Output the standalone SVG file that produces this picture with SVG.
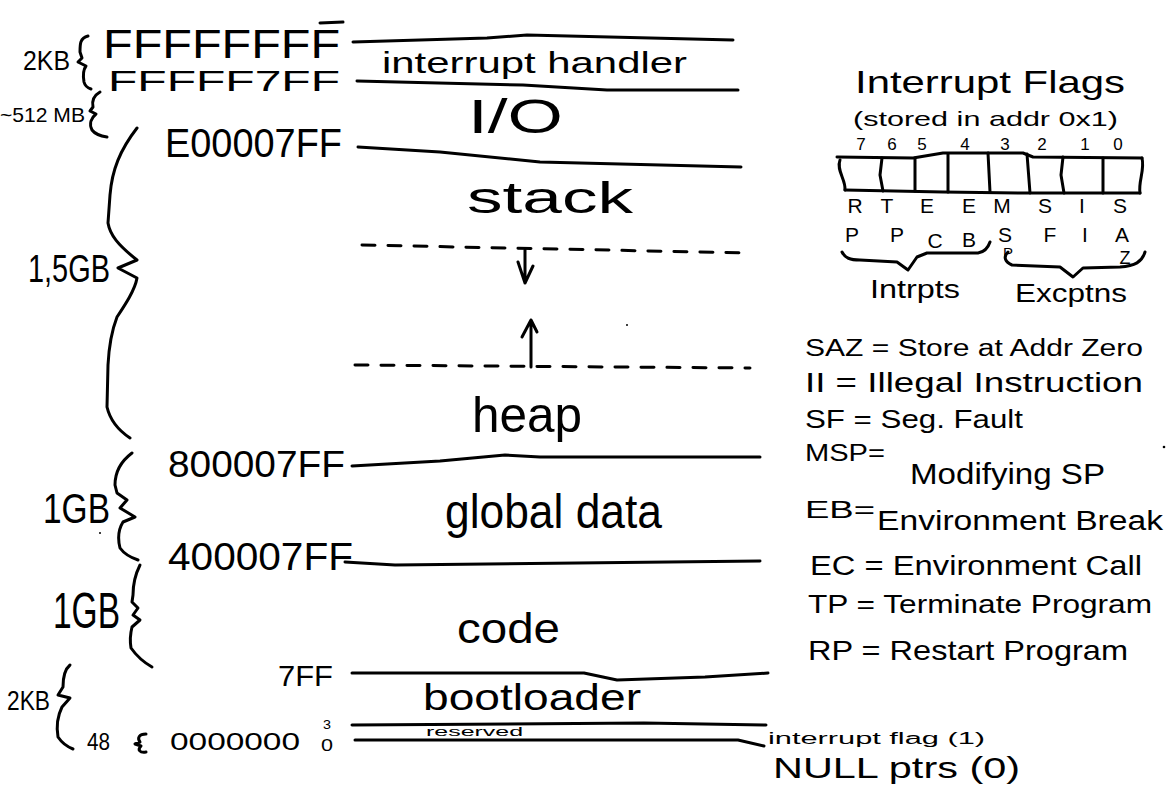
<svg xmlns="http://www.w3.org/2000/svg" width="1167" height="786" viewBox="0 0 1167 786">
<style>
.ink{fill:none;stroke:#000;stroke-width:3;stroke-linecap:round;stroke-linejoin:round}
.dash{stroke-dasharray:13 13}
.t{font-family:"Liberation Sans","DejaVu Sans",sans-serif;fill:#000}
.m{text-anchor:middle}
</style>
<rect width="1167" height="786" fill="#fff"/>

<g id="boundaries">
<path class="ink" d="M353,42 L487,38 L527,35 L733,40"/>
<path class="ink" d="M357,81 L523,85 L607,90 L738,90"/>
<path class="ink" d="M358,147 L440,152 L540,162 L741,167"/>
<path class="ink dash" d="M362,245 L750,253"/>
<path class="ink dash" d="M355,365 L750,368"/>
<path class="ink" d="M352,466 L440,461 L505,455 L540,457 L760,457"/>
<path class="ink" d="M345,562 L395,565 L760,561"/>
<path class="ink" d="M352,673 L584,673 L617,680 L705,677 L768,673"/>
<path class="ink" d="M352,725 L644,723 L766,725"/>
<path class="ink" d="M355,740 L738,740 L764,746"/>
<path class="ink" d="M320,23 L343,22"/>
</g>

<g id="connectors">
<path class="ink" d="M525,250 L525,283 M518,262 L525,283 L533,266"/>
<path class="ink" d="M531,367 L531,320 M522,337 L531,320 L537,332"/>
</g>

<g id="region-interrupt-handler"><text class="t" x="382" y="73" font-size="30" textLength="305" lengthAdjust="spacingAndGlyphs">interrupt handler</text></g>
<g id="region-io"><text class="t" x="468" y="133" font-size="49" textLength="95" lengthAdjust="spacingAndGlyphs">I/O</text></g>
<g id="region-stack"><text class="t" x="467" y="213" font-size="45" textLength="166" lengthAdjust="spacingAndGlyphs">stack</text></g>
<g id="region-heap"><text class="t" x="472" y="432" font-size="50" textLength="110" lengthAdjust="spacingAndGlyphs">heap</text></g>
<g id="region-global-data"><text class="t" x="445" y="528" font-size="48" textLength="217" lengthAdjust="spacingAndGlyphs">global data</text></g>
<g id="region-code"><text class="t" x="457" y="643" font-size="42" textLength="103" lengthAdjust="spacingAndGlyphs">code</text></g>
<g id="region-bootloader"><text class="t" x="423" y="710" font-size="36" textLength="218" lengthAdjust="spacingAndGlyphs">bootloader</text></g>
<g id="region-reserved"><text class="t" x="426" y="736" font-size="13" textLength="97" lengthAdjust="spacingAndGlyphs">reserved</text></g>
<g id="region-interrupt-flag"><text class="t" x="768" y="744" font-size="16" textLength="217" lengthAdjust="spacingAndGlyphs">interrupt flag (1)</text></g>
<g id="region-null"><text class="t" x="773" y="778" font-size="30" textLength="247" lengthAdjust="spacingAndGlyphs">NULL ptrs (0)</text></g>

<g id="addresses">
<text class="t" x="103" y="58" font-size="40" textLength="237" lengthAdjust="spacingAndGlyphs">FFFFFFFF</text>
<text class="t" x="108" y="91" font-size="29" textLength="232" lengthAdjust="spacingAndGlyphs">FFFFF7FF</text>
<text class="t" x="165" y="157" font-size="40" textLength="177" lengthAdjust="spacingAndGlyphs">E00007FF</text>
<text class="t" x="168" y="477" font-size="37" textLength="177" lengthAdjust="spacingAndGlyphs">800007FF</text>
<text class="t" x="168" y="570" font-size="38" textLength="185" lengthAdjust="spacingAndGlyphs">400007FF</text>
<text class="t" x="278" y="686" font-size="29" textLength="55" lengthAdjust="spacingAndGlyphs">7FF</text>
<text class="t" x="87" y="750" font-size="23" textLength="23" lengthAdjust="spacingAndGlyphs">48</text>
<text class="t" x="170" y="750" font-size="23" textLength="130" lengthAdjust="spacingAndGlyphs">0000000</text>
<text class="t" x="323" y="729" font-size="12" textLength="8" lengthAdjust="spacingAndGlyphs">3</text>
<text class="t" x="321" y="751" font-size="17" textLength="12" lengthAdjust="spacingAndGlyphs">0</text>
</g>

<g id="sizes">
<text class="t" x="23" y="70" font-size="28" textLength="47" lengthAdjust="spacingAndGlyphs">2KB</text>
<text class="t" x="0" y="122" font-size="21" textLength="85" lengthAdjust="spacingAndGlyphs">~512 MB</text>
<text class="t" x="28" y="282" font-size="39" textLength="82" lengthAdjust="spacingAndGlyphs">1,5GB</text>
<text class="t" x="43" y="523" font-size="43" textLength="67" lengthAdjust="spacingAndGlyphs">1GB</text>
<text class="t" x="53" y="628" font-size="50" textLength="67" lengthAdjust="spacingAndGlyphs">1GB</text>
<text class="t" x="7" y="710" font-size="28" textLength="43" lengthAdjust="spacingAndGlyphs">2KB</text>
<path class="ink" d="M88,36 C80,38 80,44 80,52 L82,58 L78,62 L86,66 C83,70 83,76 84,82 C85,86 88,88 91,89"/>
<path class="ink" d="M100,92 C93,96 92,102 93,107 L90,111 L96,114 C91,118 89,124 92,130 C95,134 100,136 107,137"/>
<path class="ink" d="M137,128 C120,150 112,170 110,195 L108,223 C110,235 118,245 137,260 L118,268 L137,278 C135,290 125,305 117,317 C112,330 109,345 108,365 L107,407 C110,420 118,430 130,438"/>
<path class="ink" d="M132,453 C120,462 115,472 115,485 L117,493 L127,500 L120,508 L135,517 L123,522 C118,530 118,540 120,548 C125,555 132,558 138,560"/>
<path class="ink" d="M140,565 C135,575 133,585 133,595 L132,602 L138,608 L133,615 L140,620 L132,627 C130,635 130,642 131,648 C138,658 145,663 152,667"/>
<path class="ink" d="M70,665 C64,670 63,678 63,687 L58,695 L70,698 L62,707 C58,715 56,725 58,737 C62,743 68,747 73,749"/>
<path class="ink" d="M146,734 C139,734 137,738 140,742 L135,744 L141,746 C137,750 140,753 146,752"/>
</g>

<g id="interrupt-flags">
<text class="t" x="855" y="93" font-size="32" textLength="270" lengthAdjust="spacingAndGlyphs">Interrupt Flags</text>
<text class="t" x="853" y="126" font-size="21" textLength="265" lengthAdjust="spacingAndGlyphs">(stored in addr 0x1)</text>
<g class="t m" font-size="17">
<text x="861" y="150">7</text><text x="892" y="150">6</text><text x="922" y="150">5</text><text x="965" y="150">4</text>
<text x="1005" y="150">3</text><text x="1042" y="150">2</text><text x="1085" y="150">1</text><text x="1118" y="150">0</text>
</g>
<path class="ink" d="M837,157 L913,158 L943,153 L1023,153 L1033,157 L1142,158"/>
<path class="ink" d="M845,190 L943,192 L1023,193 L1140,193"/>
<path class="ink" d="M840,160 C836,170 846,180 845,190"/>
<path class="ink" d="M1142,158 C1145,170 1138,182 1140,193"/>
<path class="ink" d="M882,158 L880,175 L883,191 M915,158 L915,191 M948,154 L948,192 M988,153 L990,192 M1027,154 L1030,193 M1063,157 L1061,175 L1064,193 M1103,158 L1103,193"/>
<g class="t m" font-size="21">
<text x="855" y="213">R</text><text x="887" y="213">T</text><text x="927" y="213">E</text><text x="969" y="213">E</text>
<text x="1002" y="213">M</text><text x="1045" y="213">S</text><text x="1082" y="213">I</text><text x="1120" y="213">S</text>
<text x="852" y="242">P</text><text x="897" y="242">P</text><text x="935" y="248">C</text><text x="969" y="247">B</text>
<text x="1005" y="242">S</text><text x="1050" y="242">F</text><text x="1085" y="242">I</text><text x="1122" y="242">A</text>
<text x="1008" y="258" font-size="15">P</text><text x="1125" y="264" font-size="18">Z</text>
</g>
<path class="ink" d="M842,252 C845,258 850,260 860,260 L897,262 L908,270 L917,257 L927,253 L978,253 C985,252 988,248 990,242"/>
<path class="ink" d="M1008,252 C1003,257 1005,262 1012,265 L1060,267 L1073,277 L1083,268 L1120,267 C1135,266 1142,262 1145,252"/>
<text class="t" x="870" y="298" font-size="26" textLength="90" lengthAdjust="spacingAndGlyphs">Intrpts</text>
<text class="t" x="1015" y="302" font-size="26" textLength="112" lengthAdjust="spacingAndGlyphs">Excptns</text>
</g>

<g id="legend">
<text class="t" x="805" y="356" font-size="23" textLength="338" lengthAdjust="spacingAndGlyphs">SAZ = Store at Addr Zero</text>
<text class="t" x="805" y="392" font-size="27" textLength="338" lengthAdjust="spacingAndGlyphs">II = Illegal Instruction</text>
<text class="t" x="805" y="428" font-size="26" textLength="218" lengthAdjust="spacingAndGlyphs">SF = Seg. Fault</text>
<text class="t" font-size="24"><tspan x="805" y="461" textLength="80" lengthAdjust="spacingAndGlyphs">MSP=</tspan><tspan x="910" y="484" font-size="29" textLength="195" lengthAdjust="spacingAndGlyphs">Modifying SP</tspan></text>
<text class="t" font-size="24"><tspan x="805" y="518" textLength="70" lengthAdjust="spacingAndGlyphs">EB=</tspan><tspan x="877" y="530" font-size="27" textLength="286" lengthAdjust="spacingAndGlyphs">Environment Break</tspan></text>
<text class="t" x="810" y="575" font-size="27" textLength="332" lengthAdjust="spacingAndGlyphs">EC = Environment Call</text>
<text class="t" x="808" y="613" font-size="25" textLength="344" lengthAdjust="spacingAndGlyphs">TP = Terminate Program</text>
<text class="t" x="808" y="660" font-size="28" textLength="320" lengthAdjust="spacingAndGlyphs">RP = Restart Program</text>
</g>

<g id="specks" fill="#000">
<circle cx="1164" cy="447" r="1.3"/>
<circle cx="627" cy="325" r="1"/>
<circle cx="100" cy="533" r="1"/>
</g>
</svg>
